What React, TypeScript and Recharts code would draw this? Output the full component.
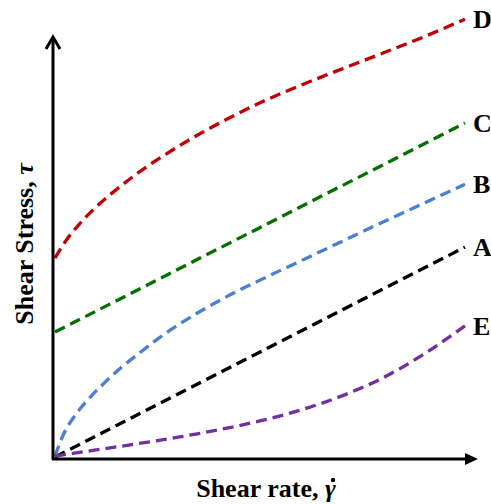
import { Line, LineChart, XAxis, YAxis } from 'recharts';

// shear rate (0-100) and shear stress (0-100)
const aRate = [0, 100];
const aStress = [0, 47.7];

const bRate = [0, 2, 5, 8, 12, 16, 20, 25, 30, 36, 42, 50, 60, 70, 80, 90, 100];
const bStress = [0.2, 5, 9.6, 13, 16.8, 20.2, 23.2, 26.8, 30, 33.4, 36.5, 40.2, 44.6, 49, 53.4, 57.7, 62];

const cRate = [0, 100];
const cStress = [28.4, 75.9];

const dRate = [0, 3, 6, 10, 15, 20, 27, 35, 42, 50, 60, 70, 80, 90, 100];
const dStress = [45.2, 49.6, 53, 56.8, 60.8, 64.4, 68.8, 73.3, 76.8, 80.5, 84.5, 88.2, 91.8, 95.5, 99.5];

const eRate = [0, 10, 20, 30, 40, 50, 60, 70, 80, 90, 100];
const eStress = [0.2, 1.6, 3, 4.5, 6.2, 8.2, 10.7, 13.9, 18, 23.4, 29.8];

const seriesNames = ['A', 'B', 'C', 'D', 'E'];
const seriesColors = ['#000000', '#4a7fd1', '#007000', '#c00000', '#7030a0'];

const toPoints = (rate: number[], stress: number[]) => rate.map((x, i) => ({ x, y: stress[i] }));

const series = [
  { data: toPoints(aRate, aStress), type: 'linear' },
  { data: toPoints(bRate, bStress), type: 'monotone' },
  { data: toPoints(cRate, cStress), type: 'linear' },
  { data: toPoints(dRate, dStress), type: 'monotone' },
  { data: toPoints(eRate, eStress), type: 'monotone' }
];

const fontFamily = '"Liberation Serif", "Times New Roman", serif';

function endLabel(name: string, count: number) {
  return (props: any) => {
    if (props.index !== count - 1) {
      return <g />;
    }
    return (
      <text x={props.x + 8} y={props.y} dy={9} fontFamily={fontFamily} fontWeight="bold" fontSize={26} fill="#000">
        {name}
      </text>
    );
  };
}

export default function App() {
  return (
    <div style={{ position: 'absolute', left: 0, top: 0, width: 491, height: 504, background: '#fff' }}>
      <LineChart width={491} height={504} margin={{ top: 17, right: 26, bottom: 47, left: 55 }}>
        <XAxis dataKey="x" type="number" domain={[0, 100]} hide />
        <YAxis type="number" domain={[0, 100]} hide />
        {series.map((s, i) => (
          <Line
            key={seriesNames[i]}
            data={s.data}
            dataKey="y"
            type={s.type as 'linear' | 'monotone'}
            stroke={seriesColors[i]}
            strokeWidth={3.3}
            strokeDasharray="11 6"
            dot={false}
            label={endLabel(seriesNames[i], s.data.length)}
            isAnimationActive={false}
          />
        ))}
      </LineChart>
      <svg width={491} height={504} style={{ position: 'absolute', left: 0, top: 0 }}>
        <line x1={53} y1={460} x2={53} y2={37} stroke="#000" strokeWidth={3} />
        <polyline points="46,49 53,37 60,49" fill="none" stroke="#000" strokeWidth={3} />
        <line x1={52} y1={459} x2={468} y2={459} stroke="#000" strokeWidth={3} />
        <polygon points="465,453 478,459 465,465" fill="#000" />
        <text x={266} y={497} textAnchor="middle" fontFamily={fontFamily} fontWeight="bold" fontSize={26}>
          Shear rate, <tspan fontStyle="italic">{'\u03b3'}</tspan>
        </text>
        {/* dot over gamma */}
        <circle cx={333} cy={480} r={2.2} fill="#000" />
        <text x={33} y={244} textAnchor="middle" transform="rotate(-90 33 244)" fontFamily={fontFamily} fontWeight="bold" fontSize={26}>
          Shear Stress, <tspan fontStyle="italic">{'\u03c4'}</tspan>
        </text>
      </svg>
    </div>
  );
}
